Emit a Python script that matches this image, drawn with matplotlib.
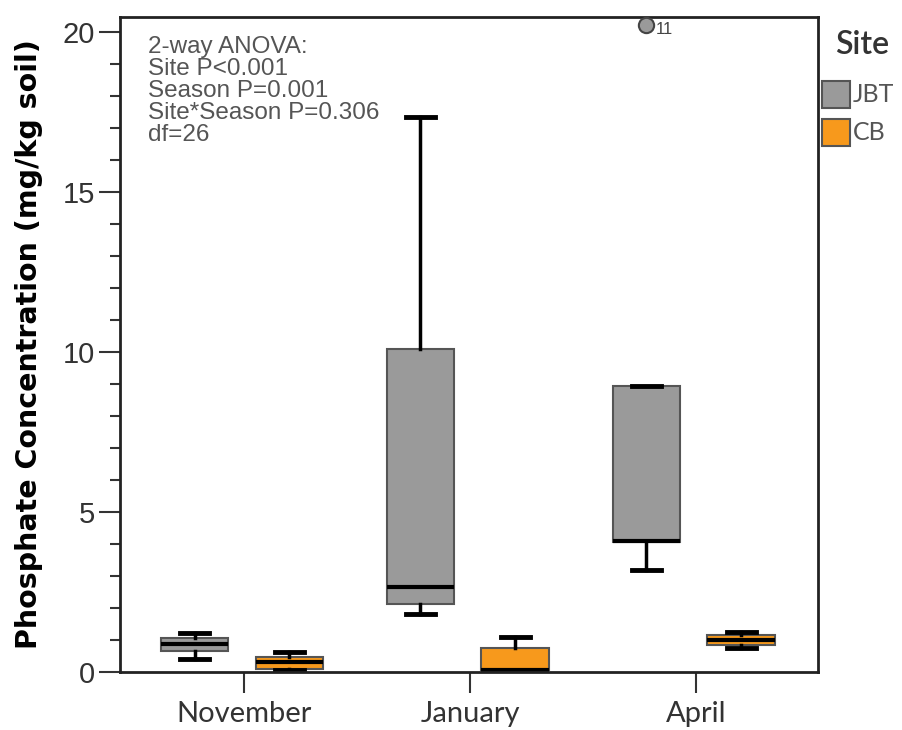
import matplotlib
matplotlib.use("Agg")
import matplotlib.pyplot as plt
from matplotlib.patches import Rectangle
from matplotlib.ticker import MultipleLocator

seasons = ["November", "January", "April"]
sites = ["JBT", "CB"]
site_colors = ["#9a9a9a", "#f7991c"]

# per season, per site: whislo, q1, med, q3, whishi
jbt_whislo = [0.40, 1.80, 3.20]
jbt_q1 = [0.66, 2.12, 4.05]
jbt_med = [0.88, 2.66, 4.10]
jbt_q3 = [1.05, 10.08, 8.95]
jbt_whishi = [1.22, 17.35, 8.95]
jbt_outliers = [[], [], [20.2]]
jbt_outlier_labels = [[], [], ["11"]]

cb_whislo = [0.05, 0.02, 0.75]
cb_q1 = [0.10, 0.05, 0.85]
cb_med = [0.30, 0.07, 1.00]
cb_q3 = [0.48, 0.75, 1.15]
cb_whishi = [0.63, 1.10, 1.25]

anova_text = "2-way ANOVA:\nSite P<0.001\nSeason P=0.001\nSite*Season P=0.306\ndf=26"

W, H = 902, 730
fig = plt.figure(figsize=(W / 100, H / 100), dpi=100)
ax = fig.add_axes([0.133, 0.0795, 0.774, 0.8975])

offsets = [-0.22, 0.20]
width = 0.30
series = [
    (jbt_whislo, jbt_q1, jbt_med, jbt_q3, jbt_whishi),
    (cb_whislo, cb_q1, cb_med, cb_q3, cb_whishi),
]
for s, (wl, q1, md, q3, wh) in enumerate(series):
    stats = []
    for i in range(len(seasons)):
        stats.append(dict(whislo=wl[i], q1=q1[i], med=md[i], q3=q3[i], whishi=wh[i], fliers=[]))
    ax.bxp(stats, positions=[i + offsets[s] for i in range(len(seasons))],
           widths=width, patch_artist=True, showfliers=False,
           boxprops=dict(facecolor=site_colors[s], edgecolor="#555555", linewidth=1.5),
           medianprops=dict(color="black", linewidth=3),
           whiskerprops=dict(color="black", linewidth=2.5),
           capprops=dict(color="black", linewidth=3.5),
           capwidths=0.13)

for i in range(len(seasons)):
    for v, lab in zip(jbt_outliers[i], jbt_outlier_labels[i]):
        ax.plot(i + offsets[0], v, "o", ms=11, mfc="#9a9a9a", mec="#444444", mew=1.5, clip_on=False, zorder=5)
        ax.annotate(lab, (i + offsets[0], v), xytext=(7, -3), textcoords="offset points",
                    fontsize=12, color="#444444", va="center", family="Liberation Sans")

ax.set_xlim(-0.55, 2.54)
ax.set_ylim(0, 20.47)
ax.set_xticks(range(len(seasons)))
ax.set_xticklabels(seasons, fontsize=21, color="#444444", family="Lato")
ax.yaxis.set_major_locator(MultipleLocator(5))
ax.yaxis.set_minor_locator(MultipleLocator(1))
ax.tick_params(axis="y", which="major", labelsize=21, length=15, width=1.5, colors="#333333", pad=3)
ax.tick_params(axis="y", which="minor", length=7, width=1.5, colors="#333333")
ax.tick_params(axis="x", length=15, width=1.5, colors="#333333", pad=6)
for t in ax.get_yticklabels():
    t.set_family("Liberation Sans")
for sp in ax.spines.values():
    sp.set_linewidth(2)
    sp.set_color("#222222")
ax.set_ylabel("Phosphate Concentration (mg/kg soil)", fontsize=20.5, fontweight="bold",
              family="DejaVu Sans", labelpad=14)

ax.text(0.040, 0.970, anova_text, transform=ax.transAxes, fontsize=17.5, color="#555555",
        va="top", ha="left", linespacing=1.0, family="Liberation Sans")

# legend (manual, figure pixel layout)
fig.text(862 / W, 1 - 45 / H, "Site", ha="center", va="center", fontsize=23,
         family="Lato", fontweight="semibold", color="#333333")
leg_rows = [(81, 108), (119, 146)]
for (top, bot), c, lab in zip(leg_rows, site_colors, sites):
    fig.add_artist(Rectangle((822 / W, 1 - bot / H), 28 / W, (bot - top) / H,
                             transform=fig.transFigure, facecolor=c, edgecolor="#555555", linewidth=1.5))
    fig.text(853 / W, 1 - (top + bot) / 2 / H, lab, ha="left", va="center", fontsize=18,
             family="Lato", color="#555555")

fig.savefig("out.png", dpi=100)
